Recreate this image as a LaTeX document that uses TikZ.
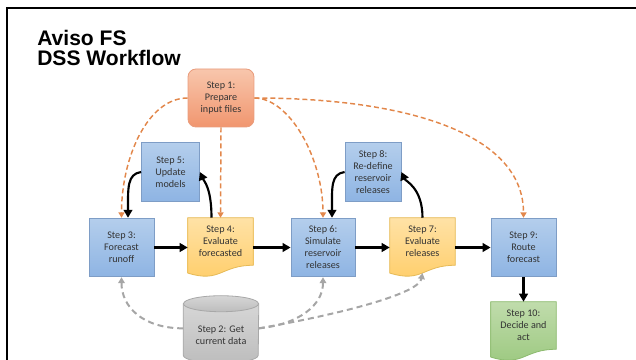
\documentclass[tikz,border=0pt]{standalone}
\usepackage{fontspec}
\setmainfont{Carlito}
\newfontfamily\titlefont{Liberation Sans}
\usetikzlibrary{calc,arrows.meta,backgrounds}

\definecolor{boxtext}{HTML}{333333}
\definecolor{bluetop}{HTML}{B4CEEC}
\definecolor{bluebot}{HTML}{8EB4E3}
\definecolor{blueline}{HTML}{7E9DC6}
\definecolor{orangetop}{HTML}{F8C6AC}
\definecolor{orangebot}{HTML}{F1966F}
\definecolor{orangeline}{HTML}{E99C7C}
\definecolor{yellowtop}{HTML}{FFE2A6}
\definecolor{yellowbot}{HTML}{FFCD68}
\definecolor{yellowline}{HTML}{E6BA57}
\definecolor{greentop}{HTML}{C0DCAC}
\definecolor{greenbot}{HTML}{9BC87E}
\definecolor{greenline}{HTML}{8CBA6E}
\definecolor{graytop}{HTML}{D6D6D6}
\definecolor{graybot}{HTML}{BDBDBD}
\definecolor{grayline}{HTML}{A8A8A8}
\definecolor{orangedashc}{HTML}{E2874B}
\definecolor{graydashc}{HTML}{A6A6A6}

\tikzset{
	stepbox/.style={rectangle, align=center, text=boxtext, inner sep=1pt,
		font=\fontsize{7.6}{9}\selectfont},
	bluebox/.style={stepbox, draw=blueline, line width=0.6pt, top color=bluetop,
		bottom color=bluebot, minimum width=#1, minimum height=44pt},
	orangebox/.style={stepbox, draw=orangeline, line width=0.6pt, rounded corners=6pt,
		top color=orangetop, bottom color=orangebot, minimum width=49.5pt, minimum height=43.5pt},
	docbox/.style={stepbox, minimum width=48.75pt, minimum height=35.25pt},
	cylbox/.style={stepbox, minimum width=56.25pt, minimum height=30pt},
	yellowfill/.style={draw=yellowline, line width=0.6pt, top color=yellowtop, bottom color=yellowbot},
	greenfill/.style={draw=greenline, line width=0.6pt, top color=greentop, bottom color=greenbot},
	cylfill/.style={draw=grayline, line width=0.6pt, top color=graytop, bottom color=graybot},
	blackarrow/.style={line width=1.6pt, -{Triangle[length=6pt,width=6.5pt]}},
	orangedash/.style={orangedashc, line width=1.1pt, dash pattern=on 3.75pt off 2.25pt,
		-{Triangle[length=4pt,width=4.5pt]}},
	graydash/.style={graydashc, line width=1.5pt, dash pattern=on 4.5pt off 3pt,
		-{Triangle[length=4.5pt,width=5pt]}},
	titlestyle/.style={anchor=north west, align=left, inner sep=0pt,
		font=\titlefont\bfseries\fontsize{15.8}{15.5}\selectfont}
}

% document shape behind a text node, wave at the bottom
\def\docshape[#1](#2){\path[#1] (#2.north west) -- (#2.north east) -- (#2.south east)
	.. controls (#2.south) and ($(#2.south)+(0,18)$) .. ($(#2.south west)+(0,7.8)$) -- cycle;
	\coordinate (#2-bot) at ($(#2.south)+(0,7.8)$);}
% database drum behind a text node
\def\cylshape(#1){\path[cylfill] ($(#1.north west)+(0,-11)$) -- (#1.south west)
	arc[start angle=180, end angle=0, x radius=37.5, y radius=8] -- ($(#1.north east)+(0,-11)$) -- cycle;
	\path[cylfill] ($(#1.north)+(0,-11)$) ellipse [x radius=37.5, y radius=8];}

\begin{document}
\begin{tikzpicture}[x=0.75pt,y=-0.75pt]
		%%%%% START %%%%%
		\useasboundingbox (0,0) rectangle (636,360);
		\draw[line width=1.9pt] (7,400) -- (7,8) -- (680,8);
		
		\node[titlestyle] (title) at (37,29.5) {Aviso FS\\DSS Workflow};
		
		\node[orangebox] (s1) at (221,98) {Step 1:\\Prepare\\input files};
		\node[bluebox=43.5pt] (s5) at (170.5,172) {Step 5:\\Update\\models};
		\node[bluebox=48.75pt] (s3) at (121.5,247.5) {Step 3:\\Forecast\\runoff};
		\node[docbox] (s4) at (220.5,241.5) {Step 4:\\Evaluate\\forecasted};
		\node[bluebox=48pt] (s6) at (323,247.5) {Step 6:\\Simulate\\reservoir\\releases};
		\node[bluebox=42pt] (s8) at (373,172) {Step 8:\\Re-define\\reservoir\\releases};
		\node[docbox] (s7) at (422.5,241.5) {Step 7:\\Evaluate\\releases};
		\node[bluebox=48.75pt] (s9) at (523.5,247.5) {Step 9:\\Route\\forecast};
		\node[docbox] (s10) at (523.5,325.5) {Step 10:\\Decide and\\act};
		\node[cylbox] (s2) at (221,335) {Step 2: Get\\current data};
		
		\begin{scope}[on background layer]
			\docshape[yellowfill](s4)
			\docshape[yellowfill](s7)
			\docshape[greenfill](s10)
			\cylshape(s2)
		\end{scope}
		
		% main flow
		\draw[blackarrow] (s3.east) -- (s3.east -| s4.west);
		\draw[blackarrow] (s4.east |- s6.west) -- (s6.west);
		\draw[blackarrow] (s6.east) -- (s6.east -| s7.west);
		\draw[blackarrow] (s7.east |- s9.west) -- (s9.west);
		\draw[blackarrow] (s9.south) -- (s10.north);
		
		% loops
		\draw[blackarrow] (s5.west) .. controls +(-14,2) and +(0,-30) .. ($(s3.north)+(6.5,0)$);
		\draw[blackarrow] ($(s4.north)+(-9,0)$) .. controls +(0,-30) and +(4,9) .. (s5.east);
		\draw[blackarrow] (s8.west) .. controls +(-14,2) and +(0,-30) .. ($(s6.north)+(9,0)$);
		\draw[blackarrow] (s7.north) .. controls +(0,-30) and +(4,9) .. (s8.east);
		
		% input files
		\draw[orangedash] (s1.west) .. controls +(-40,0) and +(0,-60) .. (s3.north);
		\draw[orangedash] (s1.south) -- (s4.north);
		\draw[orangedash] (s1.east) .. controls +(35,0) and +(0,-60) .. (s6.north);
		\draw[orangedash] (s1.east) .. controls +(150,0) and +(0,-85) .. (s9.north);
		
		% current data
		\draw[graydash] (s2.170) .. controls +(-40,0) and +(0,30) .. (s3.south);
		\draw[graydash] (s2.10) .. controls +(40,-4) and +(0,28) .. (s6.south);
		\draw[graydash] (s2.10) .. controls +(70,-12) and +(-4,22) .. (s7-bot);
		
		%%%%% END %%%%%
	\end{tikzpicture}
\end{document}
